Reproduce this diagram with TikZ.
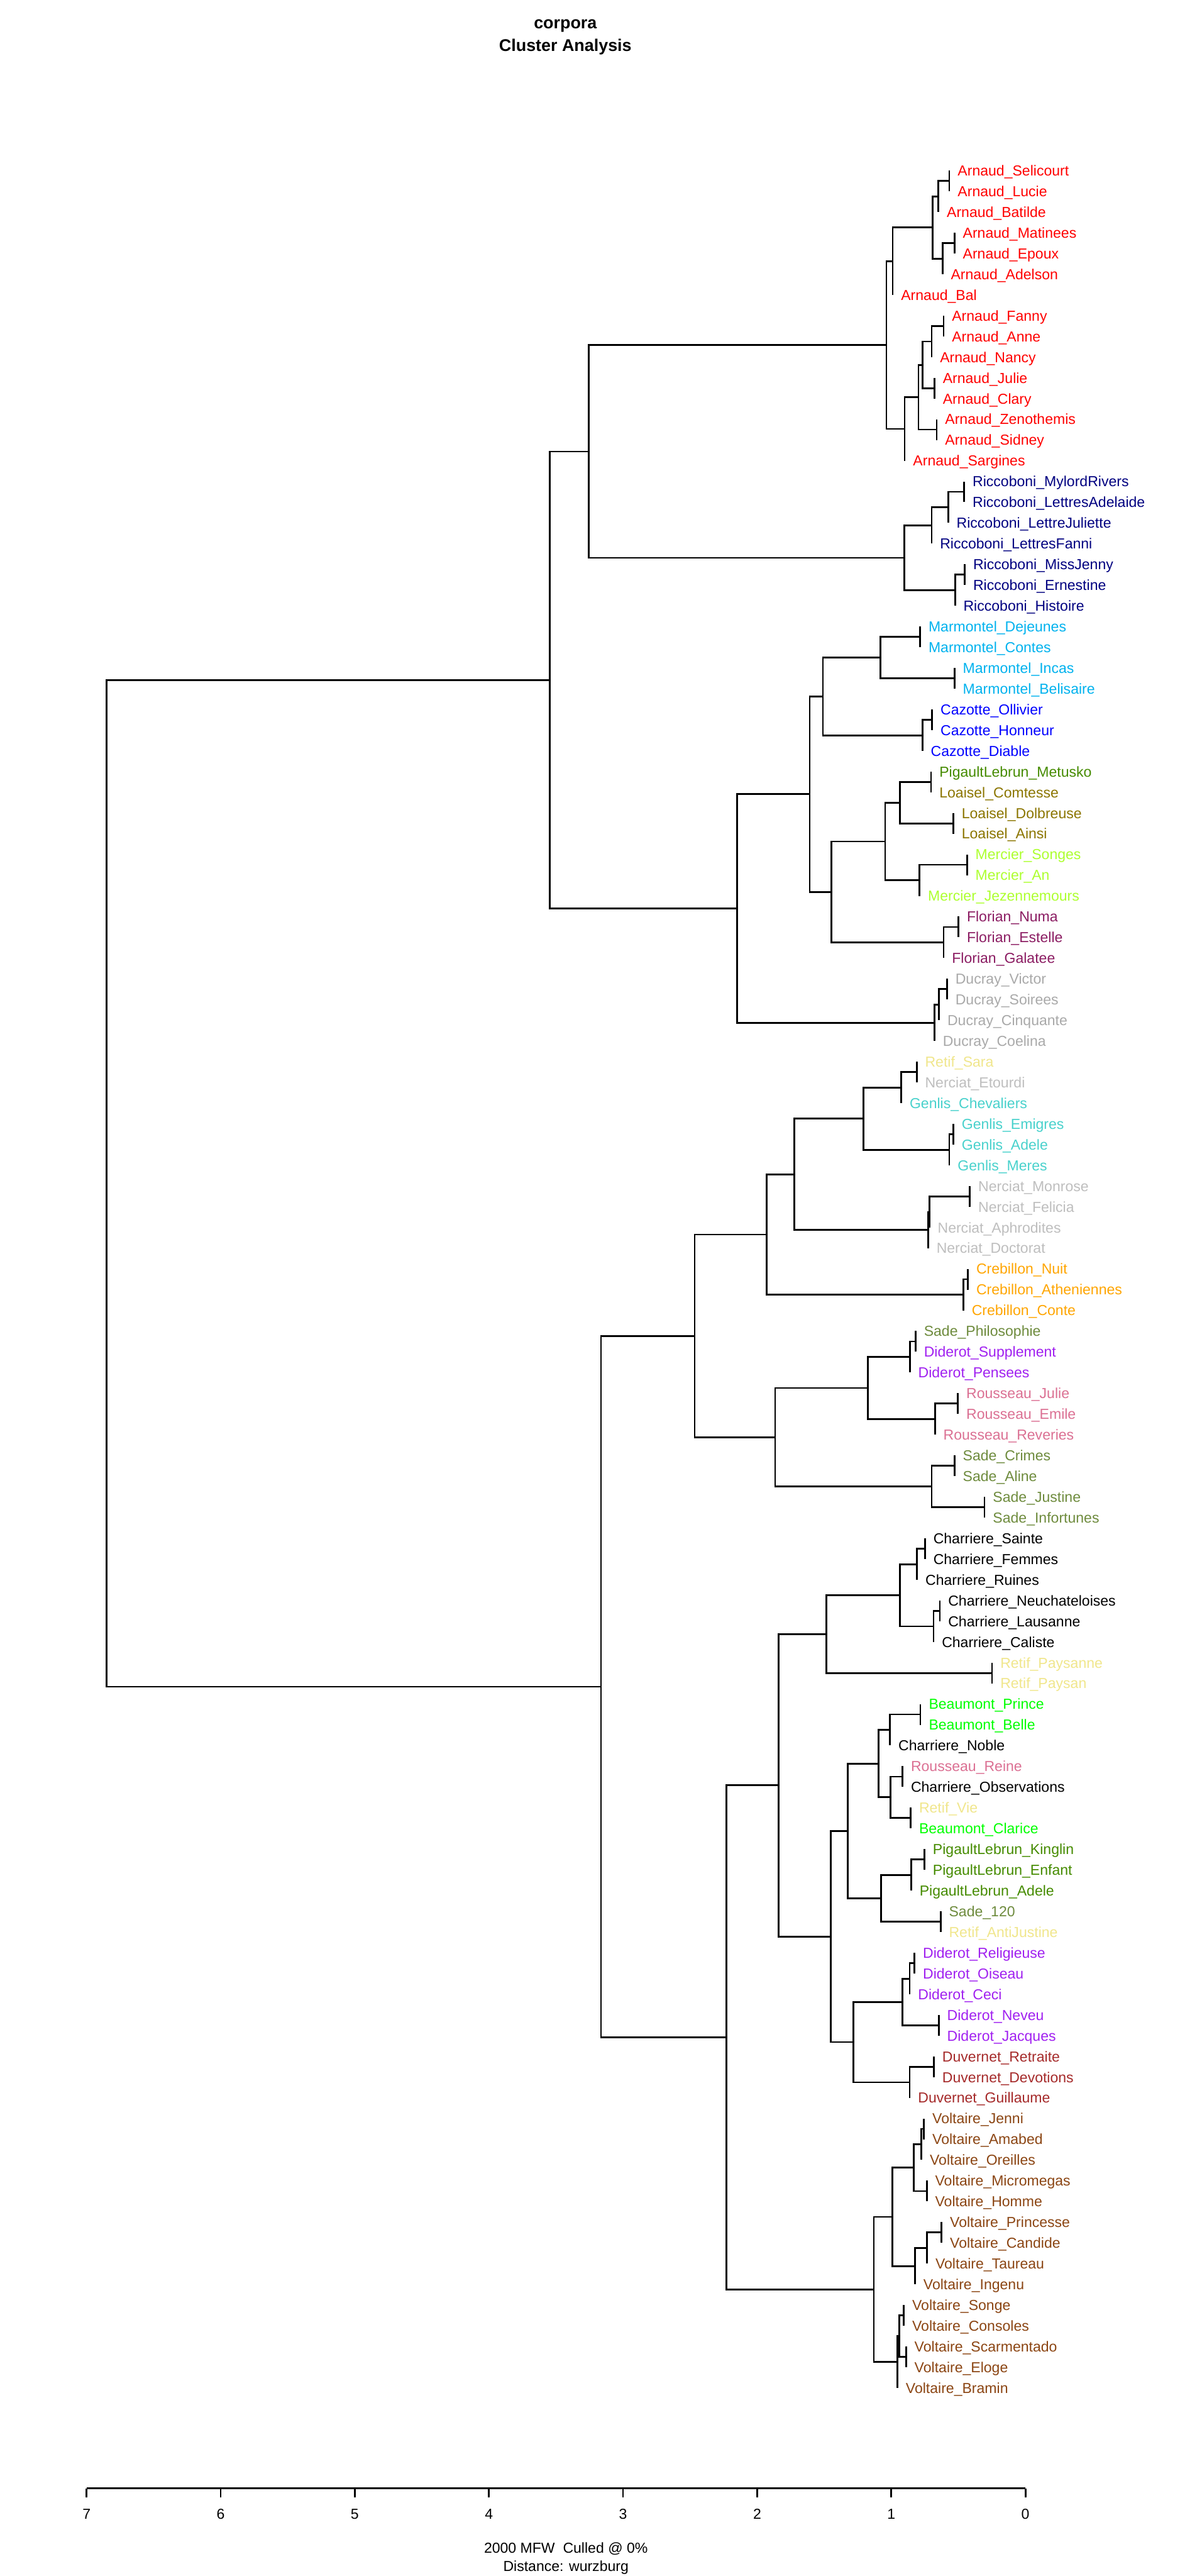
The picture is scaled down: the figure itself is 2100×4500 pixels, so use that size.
\documentclass[tikz,border=0pt]{standalone}
\usepackage{fontspec}
\setmainfont{Liberation Sans}
\usepackage{tikz}
\usetikzlibrary{calc,positioning}

\definecolor{arnaud}{HTML}{FF0000}
\definecolor{beaumont}{HTML}{00FF00}
\definecolor{cazotte}{HTML}{0000FF}
\definecolor{charriere}{HTML}{000000}
\definecolor{crebillon}{HTML}{FFA500}
\definecolor{diderot}{HTML}{A020F0}
\definecolor{ducray}{HTML}{A9A9A9}
\definecolor{duvernet}{HTML}{A52A2A}
\definecolor{florian}{HTML}{8B1C62}
\definecolor{genlis}{HTML}{48D1CC}
\definecolor{loaisel}{HTML}{8B7500}
\definecolor{marmontel}{HTML}{00B2EE}
\definecolor{mercier}{HTML}{ADFF2F}
\definecolor{nerciat}{HTML}{BEBEBE}
\definecolor{pigault}{HTML}{458B00}
\definecolor{retif}{HTML}{F0E68C}
\definecolor{riccoboni}{HTML}{000080}
\definecolor{rousseau}{HTML}{DB7093}
\definecolor{sade}{HTML}{6E8B3D}
\definecolor{voltaire}{HTML}{8B4513}

\newcommand{\leaf}[5]{%
  \coordinate (#1) at (#3,{298+36.2*(#2-1)});
  \node[lab,text=#4] (#1-t) at (#1) {#5};}
\newcommand{\clus}[4]{%
  \path let \p1=(#3), \p2=(#4) in ({#2*0.01cm},{0.5*(\y1+\y2)}) coordinate (#1);
  \draw[branch] (#1) |- (#3);
  \draw[branch] (#1) |- (#4);}

\begin{document}
\begin{tikzpicture}[x=0.01cm,y=-0.01cm,
  lab/.style={anchor=west,inner xsep=0.14cm,inner ysep=0pt,text height=5.2pt,text depth=0pt,font=\fontsize{7.2}{8}\selectfont},
  branch/.style={line width=0.85pt},
  title/.style={font=\fontsize{8.4}{10}\selectfont\bfseries},
  axis/.style={line width=0.85pt},
  note/.style={font=\fontsize{7.2}{8}\selectfont}]
\useasboundingbox (0,0) rectangle (2100,4500);

\node[title] (ttl1) at (988,45) {corpora};
\node[title] (ttl2) at (988,82) {Cluster Analysis};

\leaf{arn-selicourt}{1}{1659}{arnaud}{Arnaud\_Selicourt}
\leaf{arn-lucie}{2}{1659}{arnaud}{Arnaud\_Lucie}
\leaf{arn-batilde}{3}{1640}{arnaud}{Arnaud\_Batilde}
\leaf{arn-matinees}{4}{1668}{arnaud}{Arnaud\_Matinees}
\leaf{arn-epoux}{5}{1668}{arnaud}{Arnaud\_Epoux}
\leaf{arn-adelson}{6}{1647}{arnaud}{Arnaud\_Adelson}
\leaf{arn-bal}{7}{1560}{arnaud}{Arnaud\_Bal}
\leaf{arn-fanny}{8}{1649}{arnaud}{Arnaud\_Fanny}
\leaf{arn-anne}{9}{1649}{arnaud}{Arnaud\_Anne}
\leaf{arn-nancy}{10}{1628}{arnaud}{Arnaud\_Nancy}
\leaf{arn-julie}{11}{1633}{arnaud}{Arnaud\_Julie}
\leaf{arn-clary}{12}{1633}{arnaud}{Arnaud\_Clary}
\leaf{arn-zenothemis}{13}{1637}{arnaud}{Arnaud\_Zenothemis}
\leaf{arn-sidney}{14}{1637}{arnaud}{Arnaud\_Sidney}
\leaf{arn-sargines}{15}{1581}{arnaud}{Arnaud\_Sargines}
\leaf{ric-mylord}{16}{1685}{riccoboni}{Riccoboni\_MylordRivers}
\leaf{ric-adelaide}{17}{1685}{riccoboni}{Riccoboni\_LettresAdelaide}
\leaf{ric-juliette}{18}{1657}{riccoboni}{Riccoboni\_LettreJuliette}
\leaf{ric-fanni}{19}{1628}{riccoboni}{Riccoboni\_LettresFanni}
\leaf{ric-jenny}{20}{1686}{riccoboni}{Riccoboni\_MissJenny}
\leaf{ric-ernestine}{21}{1686}{riccoboni}{Riccoboni\_Ernestine}
\leaf{ric-histoire}{22}{1669}{riccoboni}{Riccoboni\_Histoire}
\leaf{mar-dejeunes}{23}{1608}{marmontel}{Marmontel\_Dejeunes}
\leaf{mar-contes}{24}{1608}{marmontel}{Marmontel\_Contes}
\leaf{mar-incas}{25}{1668}{marmontel}{Marmontel\_Incas}
\leaf{mar-belisaire}{26}{1668}{marmontel}{Marmontel\_Belisaire}
\leaf{caz-ollivier}{27}{1629}{cazotte}{Cazotte\_Ollivier}
\leaf{caz-honneur}{28}{1629}{cazotte}{Cazotte\_Honneur}
\leaf{caz-diable}{29}{1612}{cazotte}{Cazotte\_Diable}
\leaf{pig-metusko}{30}{1627}{pigault}{PigaultLebrun\_Metusko}
\leaf{loa-comtesse}{31}{1627}{loaisel}{Loaisel\_Comtesse}
\leaf{loa-dolbreuse}{32}{1666}{loaisel}{Loaisel\_Dolbreuse}
\leaf{loa-ainsi}{33}{1666}{loaisel}{Loaisel\_Ainsi}
\leaf{mer-songes}{34}{1690}{mercier}{Mercier\_Songes}
\leaf{mer-an}{35}{1690}{mercier}{Mercier\_An}
\leaf{mer-jezennemours}{36}{1607}{mercier}{Mercier\_Jezennemours}
\leaf{flo-numa}{37}{1675}{florian}{Florian\_Numa}
\leaf{flo-estelle}{38}{1675}{florian}{Florian\_Estelle}
\leaf{flo-galatee}{39}{1649}{florian}{Florian\_Galatee}
\leaf{duc-victor}{40}{1655}{ducray}{Ducray\_Victor}
\leaf{duc-soirees}{41}{1655}{ducray}{Ducray\_Soirees}
\leaf{duc-cinquante}{42}{1641}{ducray}{Ducray\_Cinquante}
\leaf{duc-coelina}{43}{1633}{ducray}{Ducray\_Coelina}
\leaf{ret-sara}{44}{1602}{retif}{Retif\_Sara}
\leaf{ner-etourdi}{45}{1602}{nerciat}{Nerciat\_Etourdi}
\leaf{gen-chevaliers}{46}{1575}{genlis}{Genlis\_Chevaliers}
\leaf{gen-emigres}{47}{1666}{genlis}{Genlis\_Emigres}
\leaf{gen-adele}{48}{1666}{genlis}{Genlis\_Adele}
\leaf{gen-meres}{49}{1659}{genlis}{Genlis\_Meres}
\leaf{ner-monrose}{50}{1695}{nerciat}{Nerciat\_Monrose}
\leaf{ner-felicia}{51}{1695}{nerciat}{Nerciat\_Felicia}
\leaf{ner-aphrodites}{52}{1624}{nerciat}{Nerciat\_Aphrodites}
\leaf{ner-doctorat}{53}{1622}{nerciat}{Nerciat\_Doctorat}
\leaf{cre-nuit}{54}{1691.5}{crebillon}{Crebillon\_Nuit}
\leaf{cre-atheniennes}{55}{1691.5}{crebillon}{Crebillon\_Atheniennes}
\leaf{cre-conte}{56}{1683.5}{crebillon}{Crebillon\_Conte}
\leaf{sad-philosophie}{57}{1600}{sade}{Sade\_Philosophie}
\leaf{did-supplement}{58}{1600}{diderot}{Diderot\_Supplement}
\leaf{did-pensees}{59}{1590}{diderot}{Diderot\_Pensees}
\leaf{rou-julie}{60}{1674}{rousseau}{Rousseau\_Julie}
\leaf{rou-emile}{61}{1674}{rousseau}{Rousseau\_Emile}
\leaf{rou-reveries}{62}{1634}{rousseau}{Rousseau\_Reveries}
\leaf{sad-crimes}{63}{1668}{sade}{Sade\_Crimes}
\leaf{sad-aline}{64}{1668}{sade}{Sade\_Aline}
\leaf{sad-justine}{65}{1720.5}{sade}{Sade\_Justine}
\leaf{sad-infortunes}{66}{1720.5}{sade}{Sade\_Infortunes}
\leaf{cha-sainte}{67}{1616.5}{charriere}{Charriere\_Sainte}
\leaf{cha-femmes}{68}{1616.5}{charriere}{Charriere\_Femmes}
\leaf{cha-ruines}{69}{1602.7}{charriere}{Charriere\_Ruines}
\leaf{cha-neuchateloises}{70}{1642.4}{charriere}{Charriere\_Neuchateloises}
\leaf{cha-lausanne}{71}{1642.4}{charriere}{Charriere\_Lausanne}
\leaf{cha-caliste}{72}{1631.3}{charriere}{Charriere\_Caliste}
\leaf{ret-paysanne}{73}{1733.5}{retif}{Retif\_Paysanne}
\leaf{ret-paysan}{74}{1733.5}{retif}{Retif\_Paysan}
\leaf{bea-prince}{75}{1608.5}{beaumont}{Beaumont\_Prince}
\leaf{bea-belle}{76}{1608.5}{beaumont}{Beaumont\_Belle}
\leaf{cha-noble}{77}{1555.4}{charriere}{Charriere\_Noble}
\leaf{rou-reine}{78}{1577.2}{rousseau}{Rousseau\_Reine}
\leaf{cha-observations}{79}{1577.2}{charriere}{Charriere\_Observations}
\leaf{ret-vie}{80}{1591.5}{retif}{Retif\_Vie}
\leaf{bea-clarice}{81}{1591.5}{beaumont}{Beaumont\_Clarice}
\leaf{pig-kinglin}{82}{1615.6}{pigault}{PigaultLebrun\_Kinglin}
\leaf{pig-enfant}{83}{1615.6}{pigault}{PigaultLebrun\_Enfant}
\leaf{pig-adele}{84}{1592.4}{pigault}{PigaultLebrun\_Adele}
\leaf{sad-120}{85}{1643.75}{sade}{Sade\_120}
\leaf{ret-antijustine}{86}{1643.75}{retif}{Retif\_AntiJustine}
\leaf{did-religieuse}{87}{1598.2}{diderot}{Diderot\_Religieuse}
\leaf{did-oiseau}{88}{1598.2}{diderot}{Diderot\_Oiseau}
\leaf{did-ceci}{89}{1589.7}{diderot}{Diderot\_Ceci}
\leaf{did-neveu}{90}{1640.6}{diderot}{Diderot\_Neveu}
\leaf{did-jacques}{91}{1640.6}{diderot}{Diderot\_Jacques}
\leaf{duv-retraite}{92}{1632.1}{duvernet}{Duvernet\_Retraite}
\leaf{duv-devotions}{93}{1632.1}{duvernet}{Duvernet\_Devotions}
\leaf{duv-guillaume}{94}{1589.7}{duvernet}{Duvernet\_Guillaume}
\leaf{vol-jenni}{95}{1614.7}{voltaire}{Voltaire\_Jenni}
\leaf{vol-amabed}{96}{1614.7}{voltaire}{Voltaire\_Amabed}
\leaf{vol-oreilles}{97}{1610.3}{voltaire}{Voltaire\_Oreilles}
\leaf{vol-micromegas}{98}{1619.6}{voltaire}{Voltaire\_Micromegas}
\leaf{vol-homme}{99}{1619.6}{voltaire}{Voltaire\_Homme}
\leaf{vol-princesse}{100}{1645.5}{voltaire}{Voltaire\_Princesse}
\leaf{vol-candide}{101}{1645.5}{voltaire}{Voltaire\_Candide}
\leaf{vol-taureau}{102}{1620.1}{voltaire}{Voltaire\_Taureau}
\leaf{vol-ingenu}{103}{1599.1}{voltaire}{Voltaire\_Ingenu}
\leaf{vol-songe}{104}{1579.5}{voltaire}{Voltaire\_Songe}
\leaf{vol-consoles}{105}{1579.5}{voltaire}{Voltaire\_Consoles}
\leaf{vol-scarmentado}{106}{1583.5}{voltaire}{Voltaire\_Scarmentado}
\leaf{vol-eloge}{107}{1583.5}{voltaire}{Voltaire\_Eloge}
\leaf{vol-bramin}{108}{1568.3}{voltaire}{Voltaire\_Bramin}

\clus{a1}{1659}{arn-selicourt}{arn-lucie}
\clus{a2}{1640}{a1}{arn-batilde}
\clus{a3}{1668}{arn-matinees}{arn-epoux}
\clus{a4}{1647}{a3}{arn-adelson}
\clus{a5}{1630}{a2}{a4}
\clus{a6}{1560}{a5}{arn-bal}
\clus{a7}{1649}{arn-fanny}{arn-anne}
\clus{a8}{1628}{a7}{arn-nancy}
\clus{a9}{1633}{arn-julie}{arn-clary}
\clus{a10}{1612}{a8}{a9}
\clus{a11}{1637}{arn-zenothemis}{arn-sidney}
\clus{a12}{1605}{a10}{a11}
\clus{a13}{1581}{a12}{arn-sargines}
\clus{arnaud}{1549}{a6}{a13}
\clus{r1}{1685}{ric-mylord}{ric-adelaide}
\clus{r2}{1657}{r1}{ric-juliette}
\clus{r3}{1628}{r2}{ric-fanni}
\clus{r4}{1686}{ric-jenny}{ric-ernestine}
\clus{r5}{1669}{r4}{ric-histoire}
\clus{riccoboni}{1580}{r3}{r5}
\clus{arnric}{1029}{arnaud}{riccoboni}
\clus{m1}{1608}{mar-dejeunes}{mar-contes}
\clus{m2}{1668}{mar-incas}{mar-belisaire}
\clus{marmontel}{1539}{m1}{m2}
\clus{c1}{1629}{caz-ollivier}{caz-honneur}
\clus{cazotte}{1612}{c1}{caz-diable}
\clus{marcaz}{1438}{marmontel}{cazotte}
\clus{l1}{1627}{pig-metusko}{loa-comtesse}
\clus{l2}{1666}{loa-dolbreuse}{loa-ainsi}
\clus{loaisel}{1573}{l1}{l2}
\clus{me1}{1690}{mer-songes}{mer-an}
\clus{mercier}{1607}{me1}{mer-jezennemours}
\clus{loamer}{1547}{loaisel}{mercier}
\clus{f1}{1675}{flo-numa}{flo-estelle}
\clus{florian}{1649}{f1}{flo-galatee}
\clus{loaflo}{1453}{loamer}{florian}
\clus{mcflo}{1415}{marcaz}{loaflo}
\clus{d1}{1655}{duc-victor}{duc-soirees}
\clus{d2}{1641}{d1}{duc-cinquante}
\clus{ducray}{1633}{d2}{duc-coelina}
\clus{mcduc}{1288}{mcflo}{ducray}
\clus{upper}{961}{arnric}{mcduc}

\clus{g1}{1602}{ret-sara}{ner-etourdi}
\clus{g2}{1575}{g1}{gen-chevaliers}
\clus{g3}{1666}{gen-emigres}{gen-adele}
\clus{g4}{1659}{g3}{gen-meres}
\clus{genlis}{1509}{g2}{g4}
\clus{n1}{1695}{ner-monrose}{ner-felicia}
\clus{n2}{1624}{n1}{ner-aphrodites}
\clus{nerciat}{1622}{n2}{ner-doctorat}
\clus{gennerc}{1388}{genlis}{nerciat}
\clus{cr1}{1691.5}{cre-nuit}{cre-atheniennes}
\clus{crebillon}{1683.5}{cr1}{cre-conte}
\clus{gncre}{1340}{gennerc}{crebillon}
\clus{s1}{1600}{sad-philosophie}{did-supplement}
\clus{s2}{1590}{s1}{did-pensees}
\clus{ro1}{1674}{rou-julie}{rou-emile}
\clus{rousseau}{1634}{ro1}{rou-reveries}
\clus{s3}{1516.5}{s2}{rousseau}
\clus{s4}{1668}{sad-crimes}{sad-aline}
\clus{s5}{1720.5}{sad-justine}{sad-infortunes}
\clus{sade}{1628}{s4}{s5}
\clus{rousade}{1354.5}{s3}{sade}
\clus{midup}{1214}{gncre}{rousade}

\clus{ch1}{1616.5}{cha-sainte}{cha-femmes}
\clus{ch2}{1602.7}{ch1}{cha-ruines}
\clus{ch3}{1642.4}{cha-neuchateloises}{cha-lausanne}
\clus{ch4}{1631.3}{ch3}{cha-caliste}
\clus{charriere}{1572.3}{ch2}{ch4}
\clus{paysan}{1733.5}{ret-paysanne}{ret-paysan}
\clus{chapay}{1444}{charriere}{paysan}
\clus{b1}{1608.5}{bea-prince}{bea-belle}
\clus{b2}{1555.4}{b1}{cha-noble}
\clus{b3}{1577.2}{rou-reine}{cha-observations}
\clus{b4}{1591.5}{ret-vie}{bea-clarice}
\clus{b5}{1556.3}{b3}{b4}
\clus{beaumont}{1535.3}{b2}{b5}
\clus{p1}{1615.6}{pig-kinglin}{pig-enfant}
\clus{p2}{1592.4}{p1}{pig-adele}
\clus{p3}{1643.75}{sad-120}{ret-antijustine}
\clus{pigault}{1539.7}{p2}{p3}
\clus{beapig}{1481.25}{beaumont}{pigault}
\clus{di1}{1598.2}{did-religieuse}{did-oiseau}
\clus{di2}{1589.7}{di1}{did-ceci}
\clus{di3}{1640.6}{did-neveu}{did-jacques}
\clus{diderot}{1577.2}{di2}{di3}
\clus{du1}{1632.1}{duv-retraite}{duv-devotions}
\clus{duvernet}{1589.7}{du1}{duv-guillaume}
\clus{didduv}{1491.5}{diderot}{duvernet}
\clus{bpdd}{1451.8}{beapig}{didduv}
\clus{chbd}{1360.3}{chapay}{bpdd}
\clus{v1}{1614.7}{vol-jenni}{vol-amabed}
\clus{v2}{1610.3}{v1}{vol-oreilles}
\clus{v3}{1619.6}{vol-micromegas}{vol-homme}
\clus{v4}{1596.9}{v2}{v3}
\clus{v5}{1645.5}{vol-princesse}{vol-candide}
\clus{v6}{1620.1}{v5}{vol-taureau}
\clus{v7}{1599.1}{v6}{vol-ingenu}
\clus{v8}{1559.4}{v4}{v7}
\clus{v9}{1579.5}{vol-songe}{vol-consoles}
\clus{v10}{1583.5}{vol-scarmentado}{vol-eloge}
\clus{v11}{1571.4}{v9}{v10}
\clus{v12}{1568.3}{v11}{vol-bramin}
\clus{voltaire}{1527.2}{v8}{v12}
\clus{middown}{1269.2}{chbd}{voltaire}
\clus{lower}{1050.4}{midup}{middown}
\clus{root}{186}{upper}{lower}

\coordinate (ax7) at (151.3,4347);
\coordinate (ax0) at (1792,4347);
\draw[axis] (ax7) -- (ax0);
\foreach \d in {0,...,7}{
  \draw[axis] ({1792-234.39*\d},4347) -- ++(0,16);
  \node[note] (t\d) at ({1792-234.39*\d},4392) {\d};
}
\node[note] (mfw) at (989,4452) {2000 MFW\ \ Culled @ 0\%};
\node[note] (dist) at (989,4485) {Distance: wurzburg};
\end{tikzpicture}
\end{document}
